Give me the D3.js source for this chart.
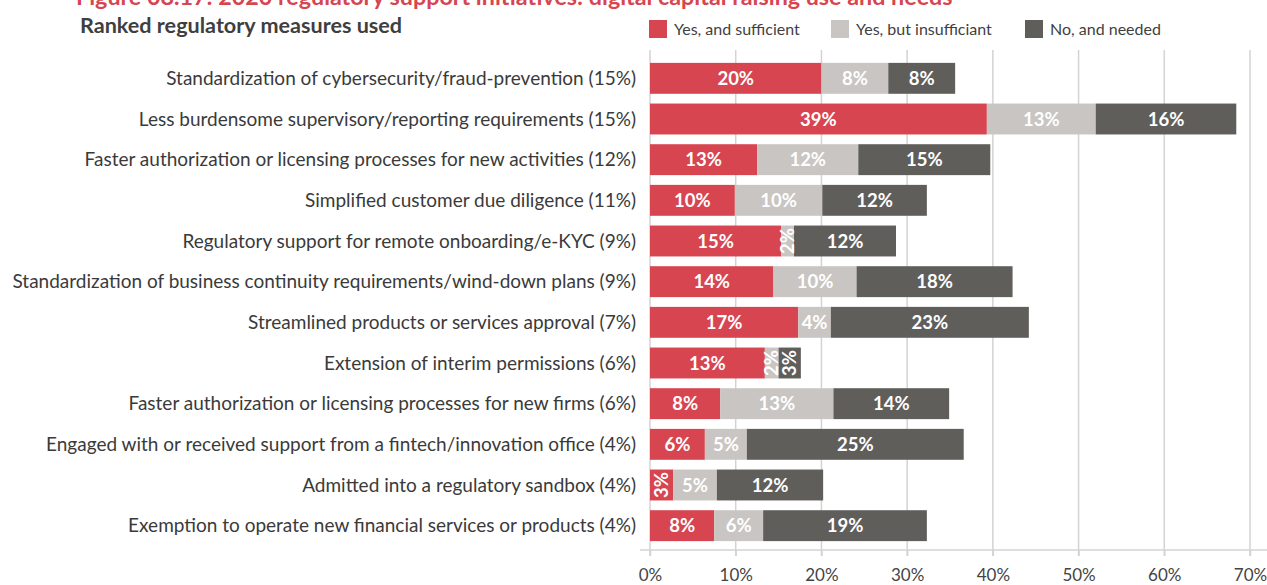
<!DOCTYPE html>
<html><head><meta charset="utf-8">
<script src="https://cdn.jsdelivr.net/npm/d3@7"></script>
<style>
html,body{margin:0;padding:0;background:#fff;}
svg{display:block;font-family:Lato,"Open Sans",sans-serif;}
</style></head>
<body><svg id="chart" width="1267" height="585"></svg>
<script>
const categories = [
  "Standardization of cybersecurity/fraud-prevention (15%)",
  "Less burdensome supervisory/reporting requirements (15%)",
  "Faster authorization or licensing processes for new activities (12%)",
  "Simplified customer due diligence (11%)",
  "Regulatory support for remote onboarding/e-KYC (9%)",
  "Standardization of business continuity requirements/wind-down plans (9%)",
  "Streamlined products or services approval (7%)",
  "Extension of interim permissions (6%)",
  "Faster authorization or licensing processes for new firms (6%)",
  "Engaged with or received support from a fintech/innovation office (4%)",
  "Admitted into a regulatory sandbox (4%)",
  "Exemption to operate new financial services or products (4%)"
];
const seriesNames = ["Yes, and sufficient", "Yes, but insufficiant", "No, and needed"];
const yesSufficient   = [20.0, 39.3, 12.5, 9.9, 15.3, 14.4, 17.3, 13.4, 8.2, 6.4, 2.7, 7.5];
const yesInsufficient = [7.8, 12.7, 11.8, 10.2, 1.5, 9.7, 3.8, 1.6, 13.2, 4.9, 5.1, 5.7];
const noNeeded        = [7.8, 16.4, 15.4, 12.2, 11.9, 18.2, 23.1, 2.6, 13.5, 25.3, 12.4, 19.1];
const xTicks = [0, 10, 20, 30, 40, 50, 60, 70];
const colors = ["#d64550", "#c9c5c2", "#5f5e5b"];

const svg = d3.select("#chart");
const x = d3.scaleLinear().domain([0, 70]).range([650, 1250]);
const y = d3.scaleBand().domain(categories).range([58, 546]).paddingInner(0.24).paddingOuter(0.12);

// title (cut off at top, as in the source)
svg.append("text").attr("x", 76).attr("y", 5)
  .attr("font-size", 23.3).attr("font-weight", 700).attr("fill", "#d64550")
  .text("Figure 08.17: 2020 regulatory support initiatives: digital capital raising use and needs");
svg.append("text").attr("x", 80).attr("y", 33)
  .attr("font-size", 21.6).attr("font-weight", 700).attr("fill", "#3f3f3f")
  .text("Ranked regulatory measures used");

// legend
const leg = svg.append("g");
const legX = [649, 831, 1025];
seriesNames.forEach((n, i) => {
  leg.append("rect").attr("x", legX[i]).attr("y", 20).attr("width", 18).attr("height", 18).attr("fill", colors[i]);
  leg.append("text").attr("x", legX[i] + 25).attr("y", 35).attr("font-size", 16).attr("fill", "#3f3f3f").text(n);
});

// gridlines
svg.append("g").selectAll("line").data(xTicks).join("line")
  .attr("x1", d => x(d)).attr("x2", d => x(d)).attr("y1", 50).attr("y2", 556)
  .attr("stroke", "#d3d3d3").attr("stroke-width", 1.5);

// axis
const axis = svg.append("g").attr("transform", "translate(0,550)")
  .call(d3.axisBottom(x).tickValues(xTicks).tickFormat(d => d + "%").tickSize(6).tickPadding(13));
axis.select(".domain").attr("stroke", "#d3d3d3").attr("stroke-width", 1.5).attr("d", "M640,0H1267");
axis.selectAll(".tick line").attr("stroke", "#d3d3d3").attr("stroke-width", 1.5);
axis.selectAll(".tick text").attr("font-size", 17).attr("fill", "#444").attr("font-family", "Lato");

// category labels
svg.append("g").selectAll("text").data(categories).join("text")
  .attr("x", 636).attr("y", d => y(d) + y.bandwidth() / 2).attr("dy", "0.35em")
  .attr("text-anchor", "end").attr("font-size", 19).attr("fill", "#3a3a3a").text(d => d);

// bars
const rows = categories.map((c, i) => ({ cat: c, vals: [yesSufficient[i], yesInsufficient[i], noNeeded[i]] }));
const segs = [];
rows.forEach(r => {
  let acc = 0;
  r.vals.forEach((v, k) => { segs.push({ cat: r.cat, k, v, x0: acc, x1: acc + v }); acc += v; });
});
svg.append("g").selectAll("rect").data(segs).join("rect")
  .attr("x", d => x(d.x0)).attr("width", d => x(d.x1) - x(d.x0))
  .attr("y", d => y(d.cat)).attr("height", y.bandwidth())
  .attr("fill", d => colors[d.k]);

svg.append("g").selectAll("text").data(segs).join("text")
  .attr("font-size", 18.5).attr("font-weight", 700).attr("fill", "#fff")
  .attr("text-anchor", "middle").attr("dy", "0.36em")
  .attr("transform", d => {
    const cx = (x(d.x0) + x(d.x1)) / 2, cy = y(d.cat) + y.bandwidth() / 2;
    const w = x(d.x1) - x(d.x0);
    return w < 28 ? `translate(${cx},${cy}) rotate(-90)` : `translate(${cx},${cy})`;
  })
  .text(d => Math.round(d.v) + "%");
</script></body></html>
